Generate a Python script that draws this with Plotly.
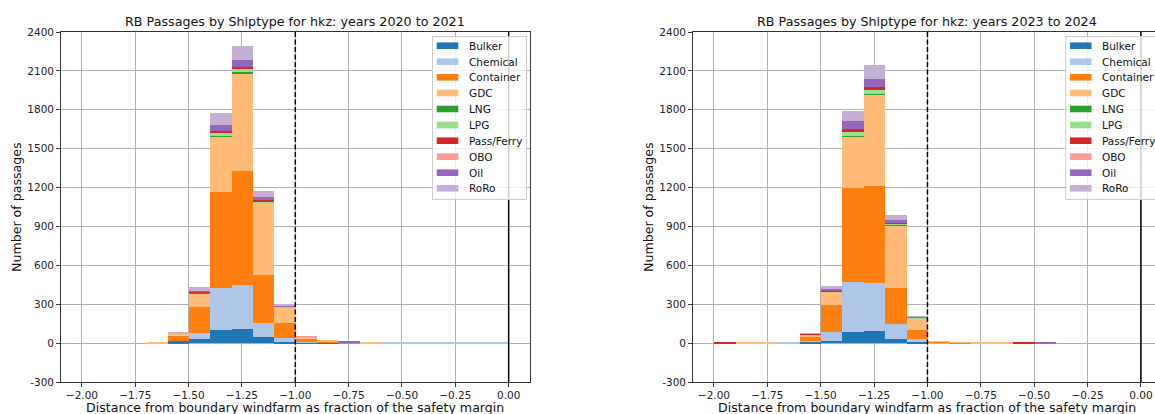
import plotly.graph_objects as go

W, H = 1155, 414

# ---------------- data ----------------
bin_centers = [-1.95, -1.85, -1.75, -1.65, -1.55, -1.45, -1.35, -1.25, -1.15, -1.05,
               -0.95, -0.85, -0.75, -0.65, -0.55, -0.45, -0.35, -0.25, -0.15, -0.05]
bin_width = 0.1

ship_types = ["Bulker", "Chemical", "Container", "GDC", "LNG", "LPG",
              "Pass/Ferry", "OBO", "Oil", "RoRo"]
colors = ["#1f77b4", "#aec7e8", "#ff7f0e", "#ffbb78", "#2ca02c", "#98df8a",
          "#d62728", "#ff9896", "#9467bd", "#c5b0d5"]

# years 2020 to 2021
bulker_a     = [0, 0, 0, 0, 13, 31, 103, 108, 44, 10, 5, 2, 0, 0, 0, 0, 0, 0, 0, 0]
chemical_a   = [0, 0, 0, 0, 0, 46, 325, 341, 115, 26, 5, 0, 0, 0, 4, 4, 4, 4, 4, 4]
container_a  = [0, 0, 0, 0, 48, 200, 741, 877, 364, 118, 22, 10, 4, 0, 0, 0, 0, 0, 0, 0]
gdc_a        = [0, 0, 0, 5, 10, 108, 421, 756, 562, 123, 8, 6, 0, 6, 0, 0, 0, 0, 0, 0]
lng_a        = [0, 0, 0, 0, 0, 2, 10, 10, 3, 0, 0, 0, 0, 0, 0, 0, 0, 0, 0, 0]
lpg_a        = [0, 0, 0, 0, 0, 3, 25, 26, 8, 2, 0, 0, 0, 0, 0, 0, 0, 0, 0, 0]
passferry_a  = [0, 0, 0, 0, 2, 5, 15, 15, 5, 0, 3, 0, 3, 0, 0, 0, 0, 0, 0, 0]
obo_a        = [0, 0, 0, 0, 0, 0, 0, 0, 0, 0, 6, 0, 0, 0, 0, 0, 0, 0, 0, 0]
oil_a        = [0, 0, 0, 0, 4, 10, 46, 49, 26, 8, 0, 0, 4, 0, 0, 0, 0, 0, 0, 0]
roro_a       = [0, 0, 0, 0, 3, 30, 87, 113, 44, 13, 0, 0, 0, 0, 0, 0, 0, 0, 0, 0]

# years 2023 to 2024
bulker_b     = [0, 0, 0, 0, 10, 18, 82, 90, 31, 10, 0, 0, 0, 0, 0, 0, 0, 0, 0, 0]
chemical_b   = [0, 0, 0, 6, 3, 69, 387, 372, 115, 21, 3, 0, 0, 0, 0, 0, 0, 0, 0, 0]
container_b  = [0, 0, 0, 0, 41, 205, 728, 753, 277, 72, 6, 3, 0, 0, 0, 0, 0, 0, 0, 0]
gdc_b        = [0, 6, 6, 0, 10, 103, 393, 700, 487, 87, 4, 4, 5, 5, 0, 0, 0, 0, 0, 0]
lng_b        = [0, 0, 0, 0, 0, 2, 8, 10, 5, 0, 0, 0, 0, 0, 0, 0, 0, 0, 0, 0]
lpg_b        = [0, 0, 0, 0, 0, 3, 28, 28, 8, 5, 0, 0, 0, 0, 0, 0, 0, 0, 0, 0]
passferry_b  = [6, 0, 0, 0, 8, 3, 26, 26, 5, 0, 0, 0, 0, 0, 6, 0, 0, 0, 0, 0]
obo_b        = [0, 0, 0, 0, 5, 0, 0, 0, 0, 0, 0, 0, 0, 0, 0, 0, 0, 0, 0, 0]
oil_b        = [0, 0, 0, 0, 0, 12, 64, 56, 18, 8, 0, 0, 0, 0, 0, 5, 0, 0, 0, 0]
roro_b       = [0, 0, 0, 0, 0, 28, 74, 108, 41, 5, 0, 0, 0, 0, 0, 0, 0, 0, 0, 0]

series_a = [bulker_a, chemical_a, container_a, gdc_a, lng_a, lpg_a,
            passferry_a, obo_a, oil_a, roro_a]
series_b = [bulker_b, chemical_b, container_b, gdc_b, lng_b, lpg_b,
            passferry_b, obo_b, oil_b, roro_b]

titles = ["RB Passages by Shiptype for hkz: years 2020 to 2021",
          "RB Passages by Shiptype for hkz: years 2023 to 2024"]
x_label = "Distance from boundary windfarm as fraction of the safety margin"
y_label = "Number of passages"

x_tickvals = [-2.0, -1.75, -1.5, -1.25, -1.0, -0.75, -0.5, -0.25, 0.0]
x_ticktext = ["\u22122.00", "\u22121.75", "\u22121.50", "\u22121.25", "\u22121.00",
              "\u22120.75", "\u22120.50", "\u22120.25", "0.00"]
y_tickvals = [-300, 0, 300, 600, 900, 1200, 1500, 1800, 2100, 2400]
y_ticktext = ["-300", "0", "300", "600", "900", "1200", "1500", "1800", "2100", "2400"]
safety_line = -1.0
boundary_line = 0.0

# ---------------- layout helpers ----------------
def px_x(x):
    return x / W

def px_y(y):
    return 1 - y / H

FONT = "DejaVu Sans"
plot_top, plot_bot = 32, 382
left_dom = [px_x(60.6), px_x(530)]
right_dom = [px_x(692.6), 1.0]
y_dom = [px_y(plot_bot), px_y(plot_top)]

fig = go.Figure()

for axis_i, series in enumerate([series_a, series_b]):
    xa = "x" if axis_i == 0 else "x2"
    ya = "y" if axis_i == 0 else "y2"
    for name, vals, col in zip(ship_types, series, colors):
        fig.add_trace(go.Bar(
            x=bin_centers, y=vals, width=bin_width, name=name,
            marker=dict(color=col, line=dict(width=0)),
            xaxis=xa, yaxis=ya, showlegend=False,
        ))

axis_common = dict(
    showgrid=True, gridcolor="#b0b0b0", gridwidth=0.8,
    showline=True, linecolor="#333333", linewidth=1,
    ticks="outside", ticklen=3.5, tickwidth=0.8, tickcolor="#333333",
    tickfont=dict(family=FONT, size=10.5, color="#222222"),
    zeroline=False, automargin=False,
)

fig.update_layout(
    width=W, height=H,
    margin=dict(l=0, r=0, t=0, b=0),
    paper_bgcolor="white", plot_bgcolor="white",
    barmode="stack", bargap=0,
    showlegend=False,
    xaxis=dict(domain=left_dom, anchor="y", range=[-2.1, 0.1],
               tickvals=x_tickvals, ticktext=x_ticktext, mirror=True, **axis_common),
    yaxis=dict(domain=y_dom, anchor="x", range=[-300, 2400],
               tickvals=y_tickvals, ticktext=y_ticktext, mirror=True, **axis_common),
    xaxis2=dict(domain=right_dom, anchor="y2", range=[-2.1, -2.1 + (W - 692.6) / 213.5],
                tickvals=x_tickvals, ticktext=x_ticktext, mirror=True, **axis_common),
    yaxis2=dict(domain=y_dom, anchor="x2", range=[-300, 2400],
                tickvals=y_tickvals, ticktext=y_ticktext, mirror=False, **axis_common),
)

shapes = []
annotations = []

for i, (xr, yr, dom) in enumerate([("x", "y", left_dom), ("x2", "y2", right_dom)]):
    shapes.append(dict(type="line", xref=xr, yref=yr, x0=safety_line, x1=safety_line,
                       y0=-300, y1=2400, line=dict(color="black", width=1.5, dash="5px,2.5px"),
                       layer="above"))
    shapes.append(dict(type="line", xref=xr, yref=yr, x0=boundary_line, x1=boundary_line,
                       y0=-300, y1=2400, line=dict(color="black", width=1.5), layer="above"))
    # titles
    cx = 295.3 if i == 0 else 927.3
    annotations.append(dict(text=titles[i], xref="paper", yref="paper",
                            x=px_x(cx), y=px_y(21), xanchor="center", yanchor="middle",
                            showarrow=False, font=dict(family=FONT, size=12.7, color="#111111")))
    annotations.append(dict(text=x_label, xref="paper", yref="paper",
                            x=px_x(cx), y=px_y(407.5), xanchor="center", yanchor="middle",
                            showarrow=False, font=dict(family=FONT, size=12.6, color="#111111")))
    ylx = 16 if i == 0 else 648
    annotations.append(dict(text=y_label, xref="paper", yref="paper",
                            x=px_x(ylx), y=px_y(207), xanchor="center", yanchor="middle",
                            textangle=-90, showarrow=False,
                            font=dict(family=FONT, size=12.6, color="#111111")))

# manual legends (matplotlib style)
entry_y = [45.7, 61.7, 77.3, 93.0, 109.0, 125.0, 140.7, 156.7, 172.7, 188.3]
for box_l, box_r, sw_l, sw_r, tx in [(432.5, 526.5, 436.7, 458.3, 466.5),
                                     (1065.7, 1165, 1070, 1091.5, 1099.5)]:
    shapes.append(dict(type="rect", xref="paper", yref="paper",
                       x0=px_x(box_l), x1=px_x(box_r), y0=px_y(199.5), y1=px_y(36.5),
                       fillcolor="rgba(255,255,255,0.8)",
                       line=dict(color="#cccccc", width=1), layer="above"))
    for name, col, ey in zip(ship_types, colors, entry_y):
        shapes.append(dict(type="rect", xref="paper", yref="paper",
                           x0=px_x(sw_l), x1=px_x(sw_r), y0=px_y(ey + 3.3), y1=px_y(ey - 3.3),
                           fillcolor=col, line=dict(width=0), layer="above"))
        annotations.append(dict(text=name, xref="paper", yref="paper",
                                x=px_x(tx), y=px_y(ey), xanchor="left", yanchor="middle",
                                showarrow=False,
                                font=dict(family=FONT, size=10.5, color="#111111")))

fig.update_layout(shapes=shapes, annotations=annotations)

fig.write_html(
    "out.html",
    config={"displayModeBar": False},
    post_script="document.body.style.margin='0';document.body.style.overflow='hidden';",
)
